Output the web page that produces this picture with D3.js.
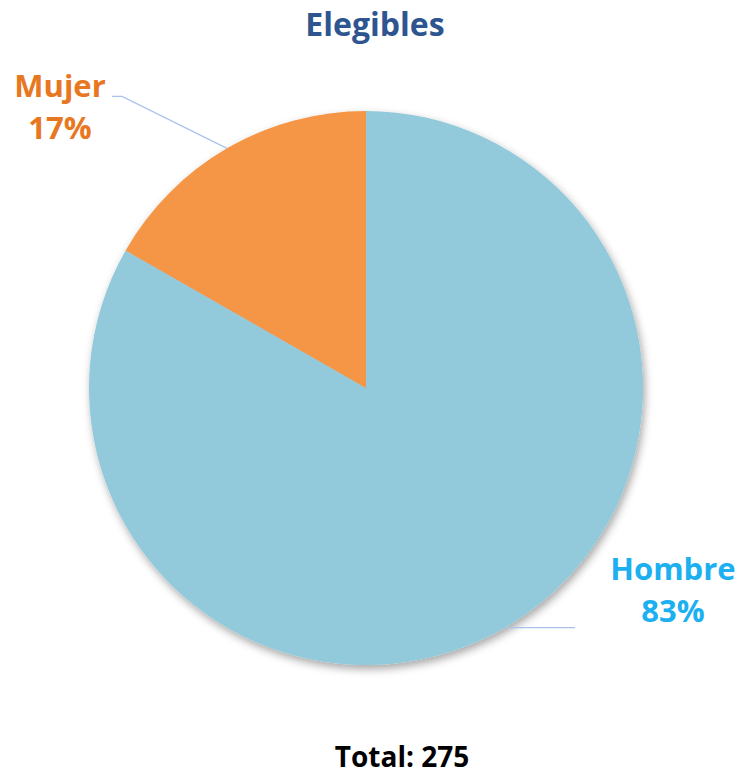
<!DOCTYPE html>
<html>
<head>
<meta charset="utf-8">
<script src="https://cdn.jsdelivr.net/npm/d3@7"></script>
<style>
  body { margin: 0; background: #fff; }
</style>
</head>
<body>
<div id="chart"></div>
<script>
const categories = ['Hombre', 'Mujer']
const counts = [229, 46]
const percentLabels = ['83%', '17%']
const sliceColors = ['#92CADB', '#F59646']
const labelColors = ['#1CB0F0', '#E87722']
const title = 'Elegibles'
const totalLabel = 'Total: 275'

const width = 744
const height = 778
const cx = 366
const cy = 388
const radius = 277
const font = '"Open Sans", sans-serif'

const data = categories.map((c, i) => ({
  name: c,
  value: counts[i],
  pct: percentLabels[i],
  fill: sliceColors[i],
  textColor: labelColors[i]
}))

const svg = d3.select('#chart')
  .append('svg')
  .attr('width', width)
  .attr('height', height)

const defs = svg.append('defs')
defs.append('filter')
  .attr('id', 'shadow')
  .attr('x', '-10%').attr('y', '-10%')
  .attr('width', '125%').attr('height', '125%')
  .append('feDropShadow')
  .attr('dx', 2)
  .attr('dy', 4)
  .attr('stdDeviation', 4)
  .attr('flood-color', '#000')
  .attr('flood-opacity', 0.35)

svg.append('text')
  .attr('x', 375)
  .attr('y', 36)
  .attr('text-anchor', 'middle')
  .attr('font-family', font)
  .attr('font-weight', 'bold')
  .attr('font-size', 32)
  .attr('fill', '#2E5590')
  .text(title)

const g = svg.append('g')
  .attr('transform', `translate(${cx},${cy})`)

const pie = d3.pie().sort(null).value(d => d.value)
const arc = d3.arc().innerRadius(0).outerRadius(radius)
const arcs = pie(data)

g.append('g')
  .attr('filter', 'url(#shadow)')
  .selectAll('path')
  .data(arcs)
  .enter()
  .append('path')
  .attr('d', arc)
  .attr('fill', d => d.data.fill)

// leader lines from the middle of each slice edge
const edgePoint = d => {
  const a = (d.startAngle + d.endAngle) / 2
  return [radius * Math.sin(a), -radius * Math.cos(a)]
}

const leader = d3.line()
g.selectAll('.leader')
  .data(arcs)
  .enter()
  .append('path')
  .attr('class', 'leader')
  .attr('fill', 'none')
  .attr('stroke', '#A9C4EB')
  .attr('stroke-width', 1.3)
  .attr('d', d => {
    const [x, y] = edgePoint(d)
    if (x < 0) return leader([[x, y], [x - 105, y - 52], [x - 115, y - 52]])
    return leader([[x, y], [x + 70, y]])
  })

const labels = g.selectAll('.label')
  .data(arcs)
  .enter()
  .append('text')
  .attr('class', 'label')
  .attr('text-anchor', 'middle')
  .attr('font-family', font)
  .attr('font-weight', 'bold')
  .attr('font-size', 31)
  .attr('fill', d => d.data.textColor)
  .attr('transform', d => {
    const [x, y] = edgePoint(d)
    return x < 0
      ? `translate(${x - 167},${y - 51})`
      : `translate(${x + 168},${y - 48})`
  })

labels.append('tspan')
  .attr('x', 0)
  .attr('y', 0)
  .text(d => d.data.name)

labels.append('tspan')
  .attr('x', 0)
  .attr('y', 42)
  .text(d => d.data.pct)

svg.append('text')
  .attr('x', 402)
  .attr('y', 767)
  .attr('text-anchor', 'middle')
  .attr('font-family', font)
  .attr('font-weight', 'bold')
  .attr('font-size', 28)
  .attr('fill', '#000')
  .text(totalLabel)
</script>
</body>
</html>
